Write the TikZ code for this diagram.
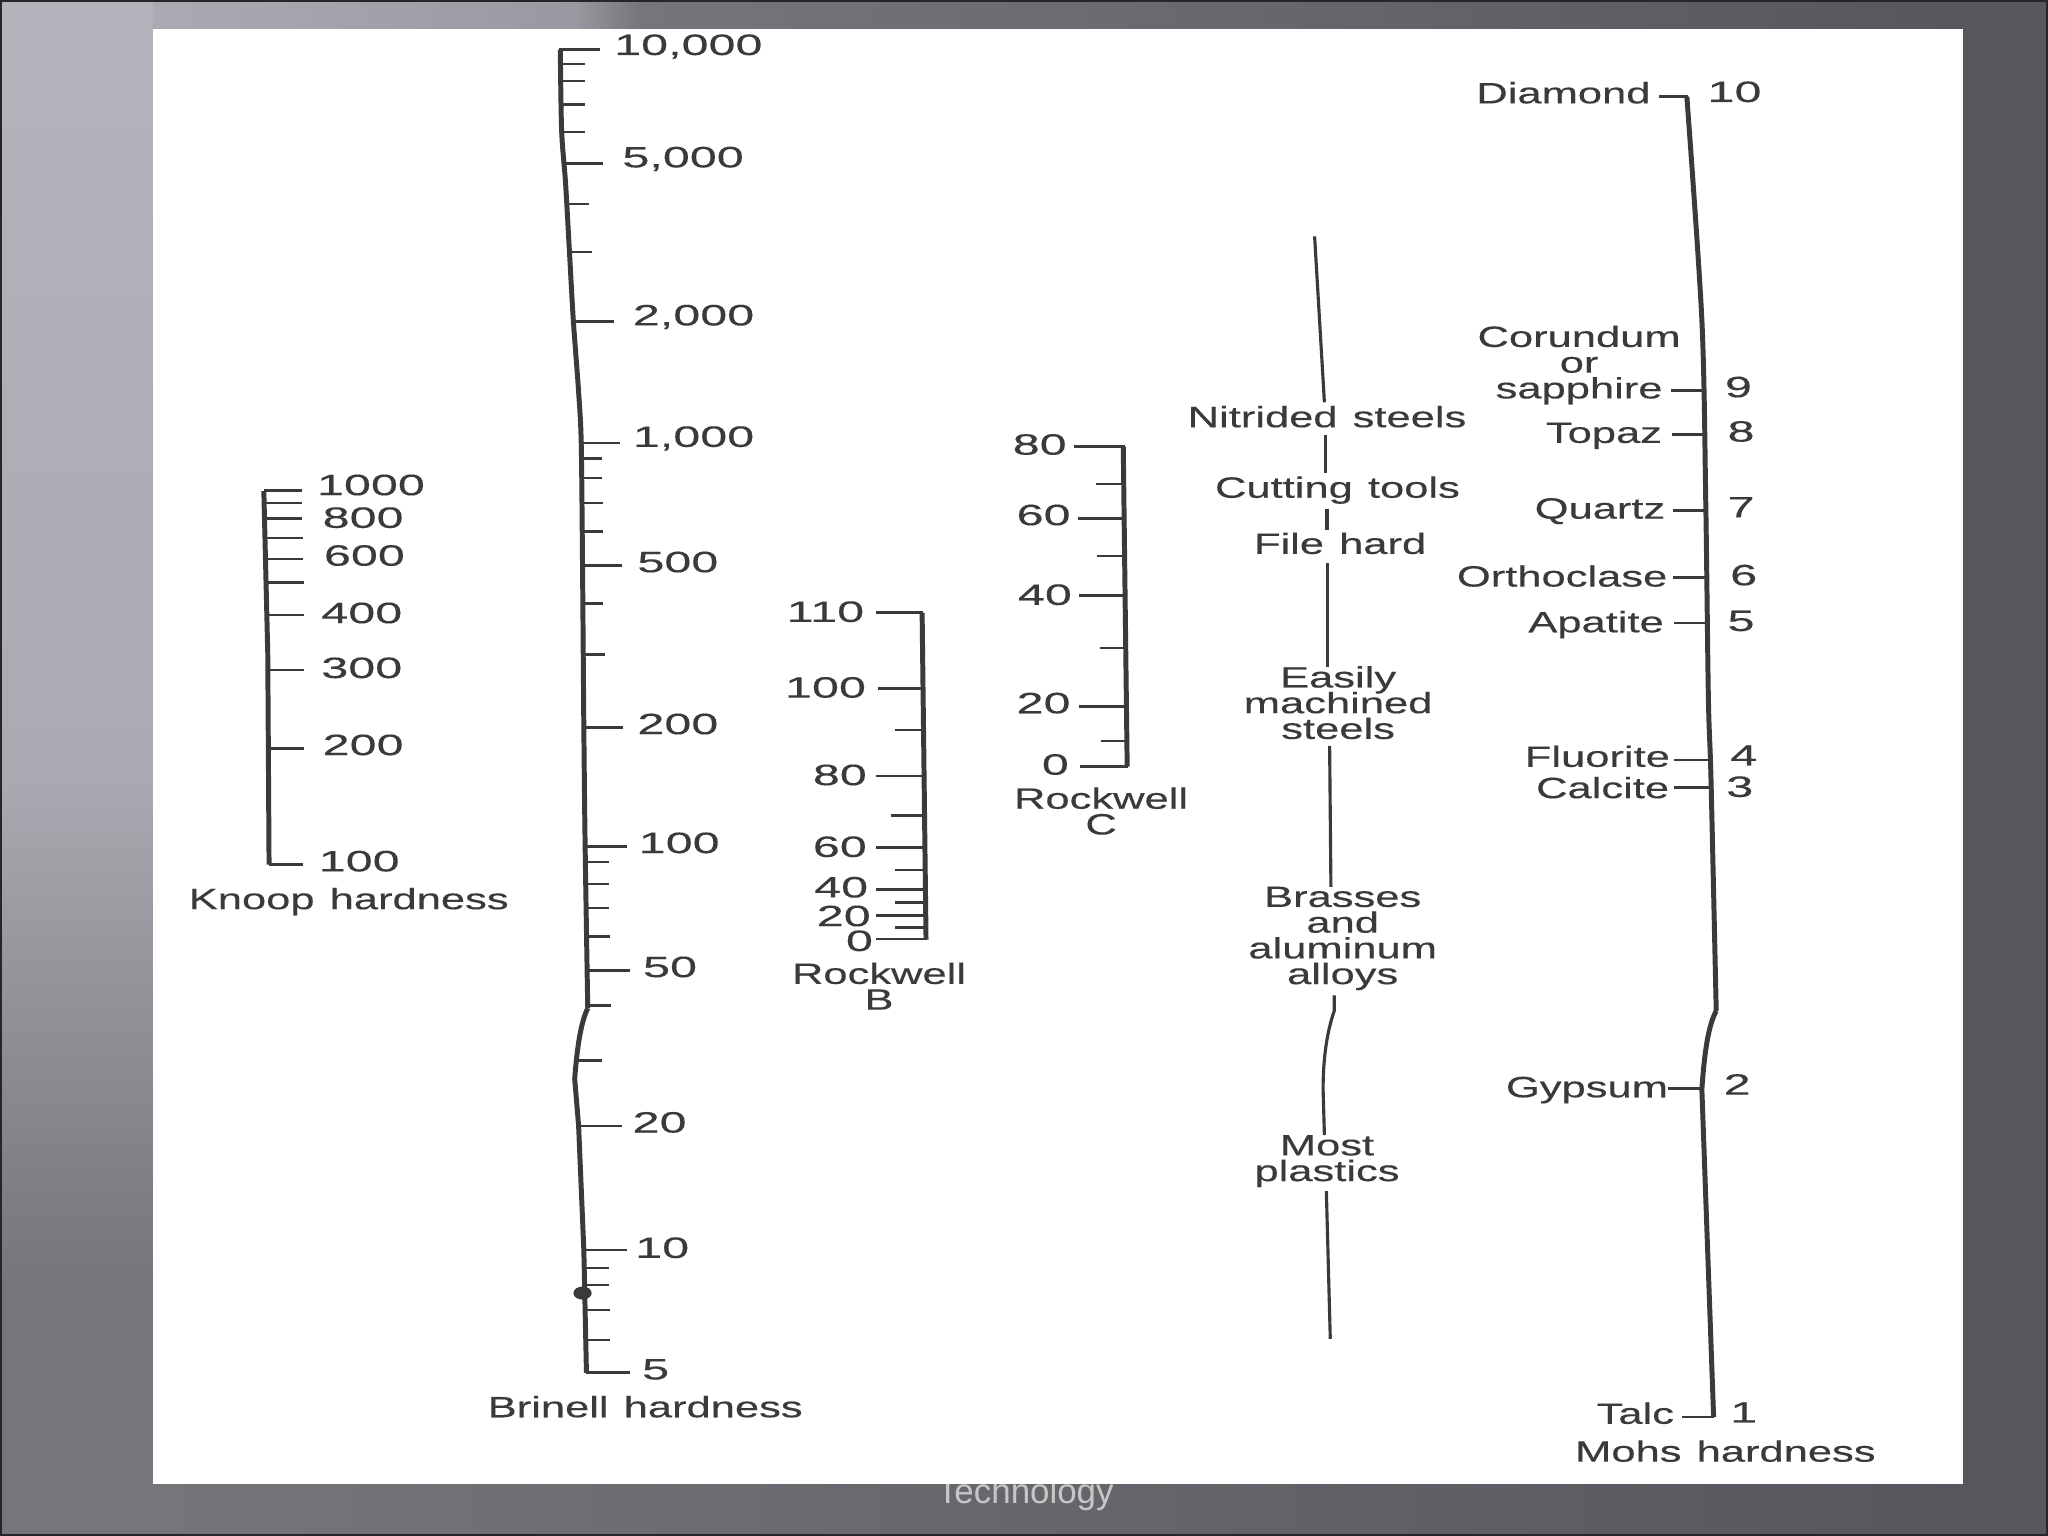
\documentclass[tikz,border=0pt]{standalone}
\usepackage{fontspec}
\usepackage{xcolor}
\setmainfont[FakeStretch=1.48,FakeBold=0.3,WordSpace=1.25]{Liberation Sans}
\newfontfamily\numfont[FakeStretch=1.65,FakeBold=0.3]{Liberation Sans}
\newfontfamily\footfont{Liberation Sans}
\newcommand{\stackfont}{\lineskiplimit=-10pt\relax\fontsize{6.4}{5.6}\selectfont}
\definecolor{inkgray}{HTML}{3A3A3C}
\definecolor{barlight}{HTML}{B4B2BA}
\definecolor{barsoft}{HTML}{ABA9B1}
\definecolor{barmid}{HTML}{9A98A0}
\definecolor{bardark}{HTML}{77757A}
\definecolor{slidedark}{HTML}{58565C}
\tikzset{
  hardaxis/.style={draw=inkgray, line width=1mm*0.38, line join=round},
  midaxis/.style={draw=inkgray, line width=1mm*0.24},
  tickmark/.style={draw=inkgray, line width=1mm*0.19},
  scalelabel/.style={text=inkgray, inner sep=0pt, text height=4.6pt, text depth=0pt, font=\fontsize{6.4}{5.6}\selectfont},
  numlabel/.style={scalelabel, font=\numfont\fontsize{6.4}{5.6}\selectfont},
  stacklabel/.style={text=inkgray, inner sep=0pt, align=center, font=\stackfont}
}

\begin{document}
\begin{tikzpicture}[x=0.01cm,y=-0.01cm]
\useasboundingbox (0,0) rectangle (1568,1176);

% slide behind the scan
\fill[slidedark] (0,0) rectangle (1568,1176);
\shade[top color=barlight, bottom color=barsoft] (0,0) rectangle (117,590);
\shade[top color=barsoft, bottom color=bardark] (0,590) rectangle (117,980);
\fill[bardark] (0,980) rectangle (117,1176);
\shade[left color=barsoft, right color=barmid] (117,0) rectangle (440,22);
\shade[left color=barmid, right color=bardark] (440,0) rectangle (490,22);
\shade[left color=bardark, right color=slidedark] (490,0) rectangle (1503,22);
\shade[left color=bardark, right color=slidedark] (117,1136) rectangle (1503,1176);
\draw[black!85, line width=0.03cm] (0,0) rectangle (1568,1176);
\node[text=gray!45, inner sep=0pt, font=\footfont\fontsize{7.6}{8}\selectfont] (footer) at (785,1144) {Technology};
\fill[white] (117,22) rectangle (1503,1136);

% Knoop
\draw[hardaxis] (202,376) -- (205,500) -- (206,662);
\draw[tickmark] (206,662) -- (232,662);
\draw[tickmark] (202,375.5) -- (231,375.5);
\draw[tickmark] (203,385) -- (231,385);
\draw[tickmark] (203,397) -- (231,397);
\draw[tickmark] (204,412) -- (232,412);
\draw[tickmark] (204,428) -- (232,428);
\draw[tickmark] (204,446) -- (233,446);
\draw[tickmark] (205,471) -- (233,471);
\draw[tickmark] (205,513) -- (233,513);
\draw[tickmark] (206,573) -- (233,573);
\node[numlabel] (k1000) at (284,371) {1000};
\node[numlabel] (k800) at (278,396) {800};
\node[numlabel] (k600) at (279,425) {600};
\node[numlabel] (k400) at (277,469) {400};
\node[numlabel] (k300) at (277,511) {300};
\node[numlabel] (k200) at (278,570) {200};
\node[numlabel] (k100) at (275,659) {100};
\node[scalelabel] (knoop) at (267,688) {Knoop hardness};

% Brinell
\draw[hardaxis] plot[smooth] coordinates {(429,38) (430,100) (433,140) (436,193) (439,246) (443,300) (445,339) (446,433) (447,557) (448,648) (450,772)};
\draw[hardaxis] (450,772) .. controls (445,782) and (442,800) .. (440,826) -- (443,862) -- (447,957) -- (449,1051);
\draw[tickmark] (449,1051) -- (482,1051);
\draw[tickmark] (428,38) -- (459,38);
\draw[tickmark] (429,49) -- (448,49);
\draw[tickmark] (429,62) -- (448,62);
\draw[tickmark] (430,80) -- (448,80);
\draw[tickmark] (430,101) -- (448,101);
\draw[tickmark] (432,125) -- (462,125);
\draw[tickmark] (434,156) -- (451,156);
\draw[tickmark] (436,193) -- (453,193);
\draw[tickmark] (439,246) -- (470,246);
\draw[tickmark] (445,339) -- (475,339);
\draw[tickmark] (445,351) -- (461,351);
\draw[tickmark] (445,366) -- (461,366);
\draw[tickmark] (445,385) -- (462,385);
\draw[tickmark] (446,407) -- (462,407);
\draw[tickmark] (446,433) -- (476,433);
\draw[tickmark] (446,462) -- (462,462);
\draw[tickmark] (446,501) -- (463,501);
\draw[tickmark] (447,557) -- (477,557);
\draw[tickmark] (448,648) -- (480,648);
\draw[tickmark] (448,660) -- (466,660);
\draw[tickmark] (448,677) -- (466,677);
\draw[tickmark] (449,695) -- (466,695);
\draw[tickmark] (449,717) -- (467,717);
\draw[tickmark] (449,743) -- (482,743);
\draw[tickmark] (450,770) -- (468,770);
\draw[tickmark] (442,812) -- (461,812);
\draw[tickmark] (443,862) -- (476,862);
\draw[tickmark] (447,957) -- (480,957);
\draw[tickmark] (447,971) -- (466,971);
\draw[tickmark] (447,984) -- (466,984);
\draw[tickmark] (448,1003) -- (467,1003);
\draw[tickmark] (448,1026) -- (467,1026);
\fill[inkgray] (446,990) ellipse (7 and 5);
\node[numlabel] (b10000) at (527,34) {10,000};
\node[numlabel] (b5000) at (523,120) {5,000};
\node[numlabel] (b2000) at (531,241) {2,000};
\node[numlabel] (b1000) at (531,334) {1,000};
\node[numlabel] (b500) at (519,430) {500};
\node[numlabel] (b200) at (519,554) {200};
\node[numlabel] (b100) at (520,645) {100};
\node[numlabel] (b50) at (513,740) {50};
\node[numlabel] (b20) at (505,859) {20};
\node[numlabel] (b10) at (507,955) {10};
\node[numlabel] (b5) at (502,1048) {5};
\node[scalelabel] (brinell) at (494,1077) {Brinell hardness};

% Rockwell B
\draw[hardaxis] (706,469) -- (709,719.5);
\draw[tickmark] (671,469) -- (707,469);
\draw[tickmark] (672,527) -- (707,527);
\draw[tickmark] (685,559) -- (707,559);
\draw[tickmark] (671,594) -- (708,594);
\draw[tickmark] (682,624.5) -- (708,624.5);
\draw[tickmark] (671,649) -- (708,649);
\draw[tickmark] (685,666) -- (708,666);
\draw[tickmark] (671,681) -- (708,681);
\draw[tickmark] (685,691) -- (709,691);
\draw[tickmark] (671,701) -- (709,701);
\draw[tickmark] (685,710) -- (709,710);
\draw[tickmark] (671,719) -- (710,719);
\node[numlabel] (rb110) at (632,468) {110};
\node[numlabel] (rb100) at (632,526) {100};
\node[numlabel] (rb80) at (643,593) {80};
\node[numlabel] (rb60) at (643,648) {60};
\node[numlabel] (rb40) at (644,679) {40};
\node[numlabel] (rb20) at (646,701) {20};
\node[numlabel] (rb0) at (658,720) {0};
\node[stacklabel] (rockb) at (673,755) {Rockwell\\B};

% Rockwell C
\draw[hardaxis] (860,342) -- (863,587);
\draw[tickmark] (822,342) -- (861,342);
\draw[tickmark] (839,370.5) -- (861,370.5);
\draw[tickmark] (825,397) -- (861,397);
\draw[tickmark] (840,425.5) -- (861,425.5);
\draw[tickmark] (826,456) -- (862,456);
\draw[tickmark] (842,496) -- (862,496);
\draw[tickmark] (826,541) -- (862,541);
\draw[tickmark] (843,567.5) -- (862,567.5);
\draw[tickmark] (827,587) -- (864,587);
\node[numlabel] (rc80) at (796,340) {80};
\node[numlabel] (rc60) at (799,394) {60};
\node[numlabel] (rc40) at (800,455) {40};
\node[numlabel] (rc20) at (799,538) {20};
\node[numlabel] (rc0) at (808,585) {0};
\node[stacklabel] (rockc) at (843,621) {Rockwell\\C};

% materials
\draw[midaxis] (1006.5,181) -- (1014,308);
\draw[midaxis] (1015,333) -- (1015,362);
\draw[midaxis] (1016,390) -- (1016,406);
\draw[midaxis] (1016.5,431) -- (1016.5,511);
\draw[midaxis] (1018,571) -- (1019,679);
\draw[midaxis] (1021.5,762) -- (1021.5,774) .. controls (1016,790) and (1013,810) .. (1013,834) -- (1014,869);
\draw[midaxis] (1015.5,912) -- (1018.5,1025);
\node[scalelabel] (nitrided) at (1016,319) {Nitrided steels};
\node[scalelabel] (cutting) at (1024,373) {Cutting tools};
\node[scalelabel] (file) at (1026,416) {File hard};
\node[stacklabel] (easily) at (1024.5,538) {Easily\\machined\\steels};
\node[stacklabel] (brasses) at (1028,718.5) {Brasses\\and\\aluminum\\alloys};
\node[stacklabel] (plastics) at (1016,889) {Most\\plastics};

% Mohs
\draw[hardaxis] plot[smooth] coordinates {(1291.5,74) (1303,245) (1306,386) (1308,535) (1310,597) (1314,774)};
\draw[hardaxis] (1314,774) .. controls (1308,785) and (1305,805) .. (1303,834) -- (1312,1085);
\draw[tickmark] (1270,74) -- (1292,74);
\draw[tickmark] (1288,1085) -- (1312,1085);
\draw[tickmark] (1279,299) -- (1304,299);
\draw[tickmark] (1280,332.5) -- (1305,332.5);
\draw[tickmark] (1281,391) -- (1306,391);
\draw[tickmark] (1281,442) -- (1307,442);
\draw[tickmark] (1282,477) -- (1308,477);
\draw[tickmark] (1282,582) -- (1309,582);
\draw[tickmark] (1282,603) -- (1310,603);
\draw[tickmark] (1277,833.5) -- (1304,833.5);
\node[scalelabel] (diamond) at (1197,71) {Diamond};
\node[numlabel] (m10) at (1328,70) {10};
\node[stacklabel] (corundum) at (1209,279.5) {Corundum\\or\\sapphire};
\node[numlabel] (m9) at (1331,296) {9};
\node[scalelabel] (topaz) at (1228,331) {Topaz};
\node[numlabel] (m8) at (1333,330) {8};
\node[scalelabel] (quartz) at (1225,389) {Quartz};
\node[numlabel] (m7) at (1333,388) {7};
\node[scalelabel] (orthoclase) at (1196,441) {Orthoclase};
\node[numlabel] (m6) at (1335,440) {6};
\node[scalelabel] (apatite) at (1222,476) {Apatite};
\node[numlabel] (m5) at (1333,475) {5};
\node[scalelabel] (fluorite) at (1223,579) {Fluorite};
\node[numlabel] (m4) at (1335,578) {4};
\node[scalelabel] (calcite) at (1227,603) {Calcite};
\node[numlabel] (m3) at (1332,602) {3};
\node[scalelabel] (gypsum) at (1215,832) {Gypsum};
\node[numlabel] (m2) at (1330,830) {2};
\node[scalelabel] (talc) at (1252,1082) {Talc};
\node[numlabel] (m1) at (1335,1081) {1};
\node[scalelabel] (mohs) at (1321,1111) {Mohs hardness};
\end{tikzpicture}
\end{document}
